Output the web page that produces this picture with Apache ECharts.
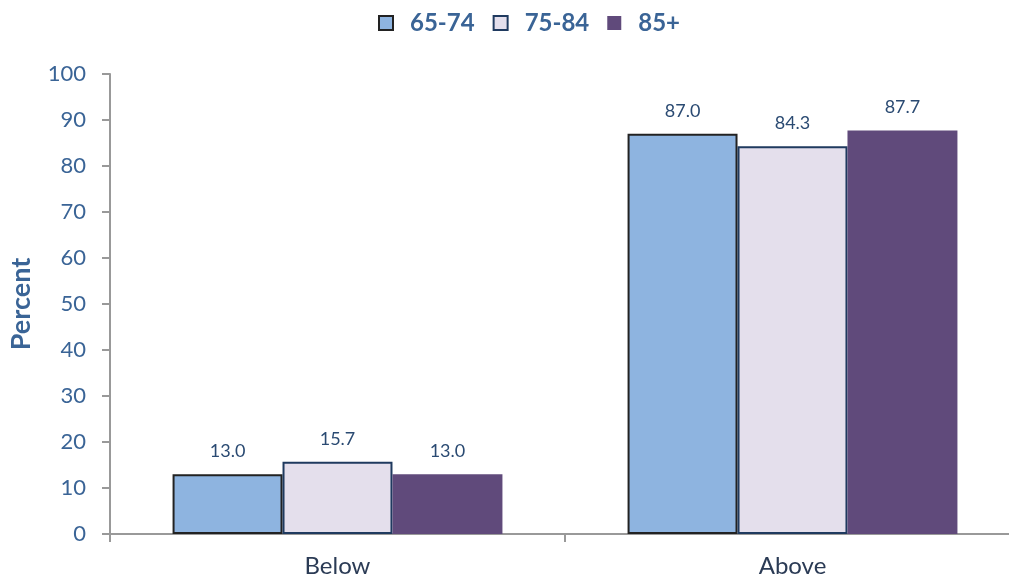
<!DOCTYPE html>
<html>
<head>
<meta charset="utf-8">
<script src="https://cdn.jsdelivr.net/npm/echarts@6/dist/echarts.min.js"></script>
<style>
  html, body { margin: 0; padding: 0; background: #fff; }
  #chart { width: 1009px; height: 584px; }
</style>
</head>
<body>
<div id="chart"></div>
<script>
// data
var categories = ["Below", "Above"];
var seriesNames = ["65-74", "75-84", "85+"];
var age6574 = [13.0, 87.0];
var age7584 = [15.7, 84.3];
var age85 = [13.0, 87.7];
var yTicks = { min: 0, max: 100, interval: 10 };

var fontFam = "Lato, 'Open Sans', sans-serif";
var blue = "#3A6496";
var labelBlue = "#2A4A72";

function barSeries(name, data, fill, border, bw) {
  return {
    name: name,
    type: "bar",
    data: data,
    barGap: "0%",
    barCategoryGap: "27.5%",
    itemStyle: { color: fill, borderColor: border, borderWidth: bw },
    label: {
      show: true,
      position: "top",
      distance: 14,
      color: labelBlue,
      fontSize: 18,
      fontFamily: fontFam,
      formatter: function (p) { return p.value.toFixed(1); }
    }
  };
}

var myChart = echarts.init(document.getElementById("chart"));
myChart.setOption({
  animation: false,
  legend: {
    top: 6,
    left: 373,
    icon: "rect",
    itemWidth: 14,
    itemHeight: 14,
    itemGap: 18,
    textStyle: {
      color: blue, fontSize: 24, fontWeight: "bold", fontFamily: fontFam,
      padding: [0, 0, 0, 12]
    },
    data: [
      { name: "65-74", itemStyle: { borderColor: "#222", borderWidth: 2 } },
      { name: "75-84", itemStyle: { borderColor: "#1F3A5F", borderWidth: 2 } },
      { name: "85+" }
    ]
  },
  grid: { left: 110, right: -11, top: 74, bottom: 50, containLabel: false, outerBoundsMode: "none" },
  xAxis: {
    type: "category",
    data: categories,
    axisLine: { lineStyle: { color: "#999", width: 2 } },
    axisTick: { show: true, length: 8, lineStyle: { color: "#999", width: 2 } },
    axisLabel: { color: "#2B3B55", fontSize: 24, fontFamily: fontFam, margin: 20 }
  },
  yAxis: {
    type: "value",
    min: yTicks.min,
    max: yTicks.max,
    interval: yTicks.interval,
    name: "Percent",
    nameLocation: "middle",
    nameGap: 75,
    nameTextStyle: { color: blue, fontSize: 27, fontWeight: "bold", fontFamily: fontFam },
    splitLine: { show: false },
    axisLine: { show: true, lineStyle: { color: "#999", width: 2 } },
    axisTick: { show: true, length: 8, lineStyle: { color: "#999", width: 2 } },
    axisLabel: { color: blue, fontSize: 22, fontFamily: fontFam, margin: 24 }
  },
  series: [
    barSeries("65-74", age6574, "#8EB4E0", "#222222", 2),
    barSeries("75-84", age7584, "#E4DFEC", "#1F3A5F", 2),
    barSeries("85+", age85, "#604A7B", "#604A7B", 0)
  ]
});
window.addEventListener("resize", function () { myChart.resize(); });
</script>
</body>
</html>
